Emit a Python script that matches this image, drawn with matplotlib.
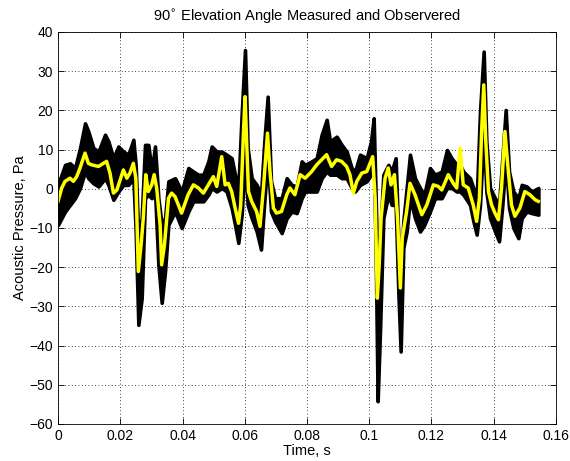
import matplotlib
matplotlib.use("Agg")
import matplotlib.pyplot as plt

# ==============================
# Data
# ==============================

# time points (s) for the measured signal envelope
t_env = [0.0, 0.00225, 0.00386, 0.00546, 0.00707, 0.00867, 0.00974, 0.01135, 0.0130,
         0.0151, 0.01617, 0.01778, 0.01938, 0.02099, 0.02259, 0.0242, 0.02495, 0.02581,
         0.02688, 0.02795, 0.02902, 0.03009, 0.03116, 0.03224, 0.03331, 0.03438, 0.03545,
         0.03652, 0.03759, 0.03973, 0.04187, 0.04348, 0.04508, 0.04669, 0.0483, 0.04937,
         0.05096, 0.05258, 0.05418, 0.05579, 0.05686, 0.05793, 0.059, 0.06008, 0.06093,
         0.06222, 0.06383, 0.06522, 0.06629, 0.06736, 0.06843, 0.06972, 0.07186, 0.07347,
         0.07508, 0.07668, 0.07829, 0.07936, 0.0815, 0.08311, 0.08471, 0.08632, 0.08739,
         0.08953, 0.09114, 0.09274, 0.09435, 0.09542, 0.09703, 0.09917, 0.10056, 0.10142,
         0.10206, 0.1027, 0.10345, 0.10452, 0.10613, 0.1072, 0.10848, 0.10934, 0.11009,
         0.11095, 0.11202, 0.11309, 0.1147, 0.11631, 0.1177, 0.11952, 0.12112, 0.12327,
         0.12497, 0.12648, 0.1281, 0.12916, 0.13023, 0.13237, 0.13345, 0.13452, 0.13559,
         0.13677, 0.13763, 0.1388, 0.14041, 0.1417, 0.14277, 0.14384, 0.14491, 0.1463,
         0.14791, 0.14898, 0.15059, 0.1522, 0.15434]

# upper / lower edge of the measured (black) trace, Pa
p_upper = [1.0, 6.1, 6.5, 5.3, 10.4, 16.7, 14.6, 10.4, 9.5,
           13.8, 12.1, 7.8, 10.8, 9.5, 8.7, 12.5, 6.1, -12.6,
           -7.5, 11.2, 11.2, 4.4, 10.8, -2.4, -9.2, -7.5, 1.9,
           2.3, 2.7, -0.7, 5.3, 4.4, 3.6, 3.6, 7.0, 10.8,
           9.5, 9.5, 8.7, 7.8, 3.6, 0.2, 18.9, 35.4, 10.4,
           2.7, 1.0, -1.5, 12.1, 23.5, 1.9, -2.4, -2.4, 2.7,
           1.0, 0.6, 7.0, 6.1, 7.0, 7.8, 13.8, 17.6, 12.1,
           13.3, 11.2, 9.5, 5.3, 4.4, 8.7, 7.8, 12.1, 18.0,
           -2.0, -24.0, -13.0, 3.6, 6.1, 4.4, 7.8, -12.6, -22.0,
           -8.3, 0.2, 8.7, 2.7, 0.2, -1.5, 5.3, 3.6, 4.4,
           9.9, 7.8, 6.1, 6.1, 4.4, 2.7, 0.2, -2.4, 19.7,
           35.0, 12.1, 0.2, -2.4, -4.1, 7.8, 20.1, 4.4, -0.7,
           -2.4, 1.0, 0.6, -0.7, 0.2]
p_lower = [-9.2, -5.8, -4.1, -2.4, 0.2, 4.4, 2.7, 1.4, 0.6,
           2.7, 1.0, -2.8, -0.7, 1.0, 1.0, 2.7, -10.9, -34.7,
           -27.9, -2.4, -1.5, -2.4, -0.7, -19.4, -29.1, -21.1, -9.2,
           -7.5, -5.8, -10.0, -5.8, -3.2, -3.2, -3.2, -1.5, 0.2,
           -0.7, 0.2, -0.7, -4.9, -9.2, -13.8, -6.6, 7.8, -4.1,
           -7.5, -10.9, -15.5, -3.2, 7.8, -5.8, -8.3, -11.3, -7.5,
           -5.8, -6.2, -2.4, -0.7, -0.7, -0.7, 2.7, 4.4, 3.6,
           3.6, 2.7, 2.7, 0.2, -0.7, 1.0, 1.9, 3.6, 9.5,
           -15.1, -54.2, -36.4, -7.5, -1.5, -4.1, -4.1, -26.2, -41.5,
           -15.1, -10.9, -2.4, -7.5, -10.9, -9.2, -5.8, -2.4, -2.4,
           0.2, 0.2, -0.7, -0.7, -1.5, -4.1, -8.3, -11.7, -4.1,
           14.6, -0.7, -7.5, -10.9, -13.4, -4.1, 7.8, -4.9, -10.0,
           -12.6, -7.5, -5.8, -6.2, -6.6]

# observed (yellow) trace
t_obs = [0.0, 0.00118, 0.00225, 0.00386, 0.00493, 0.006, 0.00707, 0.00867, 0.00974,
         0.0108, 0.0130, 0.0156, 0.0167, 0.0178, 0.0189, 0.0210, 0.0221, 0.0231,
         0.0242, 0.0250, 0.0258, 0.0267, 0.0274, 0.0282, 0.0290, 0.0301, 0.0309,
         0.0317, 0.0328, 0.0333, 0.0342, 0.0355, 0.0365, 0.0376, 0.0397, 0.0418,
         0.0435, 0.0451, 0.0467, 0.0483, 0.0499, 0.0510, 0.0526, 0.0537, 0.0547,
         0.0558, 0.0569, 0.0580, 0.0587, 0.0596, 0.0601, 0.0606, 0.0612, 0.0622,
         0.0638, 0.0649, 0.0660, 0.0673, 0.0681, 0.0692, 0.0702, 0.0718, 0.0735,
         0.0745, 0.0761, 0.0778, 0.0794, 0.0815, 0.0831, 0.0847, 0.0863, 0.0879,
         0.0895, 0.0911, 0.0927, 0.0938, 0.0949, 0.0960, 0.0976, 0.0992, 0.1011,
         0.1019, 0.1026, 0.1032, 0.1038, 0.1051, 0.1061, 0.1070, 0.1081, 0.1091,
         0.1100, 0.1106, 0.1120, 0.1131, 0.1147, 0.1169, 0.1185, 0.1206, 0.1222,
         0.1233, 0.1254, 0.1270, 0.1281, 0.1292, 0.1302, 0.1318, 0.1334, 0.1345,
         0.1354, 0.1361, 0.1368, 0.1374, 0.1383, 0.1393, 0.1404, 0.1415, 0.1425,
         0.1436, 0.1445, 0.1457, 0.1468, 0.1484, 0.1500, 0.1516, 0.1533, 0.1543]
p_obs = [-3.2, 0.2, 1.9, 2.7, 1.9, 3.1, 5.3, 9.1, 6.5,
         6.1, 5.7, 7.0, 4.0, -1.1, -0.3, 4.8, 2.7, 4.0,
         6.5, 2.7, -21.1, -14.3, -7.5, 3.6, -0.7, 1.0, 3.6,
         0.2, -9.2, -19.4, -14.3, -2.4, -1.1, -2.0, -6.2, -1.5,
         1.0, 0.2, -1.1, 1.0, 3.1, 0.6, 8.2, 1.0, 1.4,
         -0.7, -4.9, -8.8, -4.1, 14.6, 23.5, 12.1, -0.7, -3.2,
         -5.8, -9.6, 0.2, 14.2, 4.4, -4.9, -6.2, -5.8, -1.5,
         0.2, -1.5, 3.6, 2.7, 4.4, 6.1, 7.4, 8.7, 5.7,
         7.4, 7.0, 5.7, 3.6, -1.1, 1.9, 4.0, 4.4, 8.2,
         -2.4, -27.9, -19.4, -7.5, 2.7, 5.3, 1.0, 3.6, -7.5,
         -25.3, -12.6, -5.8, 1.4, -1.5, -6.6, -4.1, 1.0, 0.6,
         -0.3, 3.6, 1.4, 0.2, 10.4, 1.0, 0.2, -4.1, -8.3,
         -2.4, 14.6, 26.5, 12.9, -0.7, -4.1, -6.2, -7.9, 0.2,
         14.6, 6.1, -4.1, -7.0, -4.9, -0.7, -1.5, -2.8, -3.2]

x_ticks = [0, 0.02, 0.04, 0.06, 0.08, 0.1, 0.12, 0.14, 0.16]
x_tick_labels = ["0", "0.02", "0.04", "0.06", "0.08", "0.1", "0.12", "0.14", "0.16"]
y_ticks = [-60, -50, -40, -30, -20, -10, 0, 10, 20, 30, 40]

# ==============================
# Plot
# ==============================

plt.rcParams['font.family'] = ['Liberation Sans', 'DejaVu Sans']

fig = plt.figure(figsize=(5.7, 4.61), dpi=100)
ax = fig.add_axes([0.1018, 0.0803, 0.8736, 0.8503])

# measured signal as a thick black band
ax.fill_between(t_env, p_lower, p_upper, color='black', linewidth=2.6,
                edgecolor='black', joinstyle='round')
# observed signal on top
ax.plot(t_obs, p_obs, color='#ffff00', linewidth=2.5, solid_joinstyle='round')

ax.set_xlim(0, 0.16)
ax.set_ylim(-60, 40)
ax.set_xticks(x_ticks)
ax.set_xticklabels(x_tick_labels)
ax.set_yticks(y_ticks)

ax.grid(True, linestyle=(0, (1, 3)), color='black', linewidth=0.6)
ax.tick_params(direction='in', top=True, right=True, labelsize=10, length=4, width=0.6)
for s in ax.spines.values():
    s.set_linewidth(0.6)

ax.set_xlabel("Time, s", fontsize=10.5, labelpad=1)
ax.set_ylabel("Acoustic Pressure, Pa", fontsize=10.5, labelpad=2)
ax.set_title(r"90$^{\circ}$ Elevation Angle Measured and Observered", fontsize=10.5, pad=8)

fig.savefig("out.png", dpi=100)
